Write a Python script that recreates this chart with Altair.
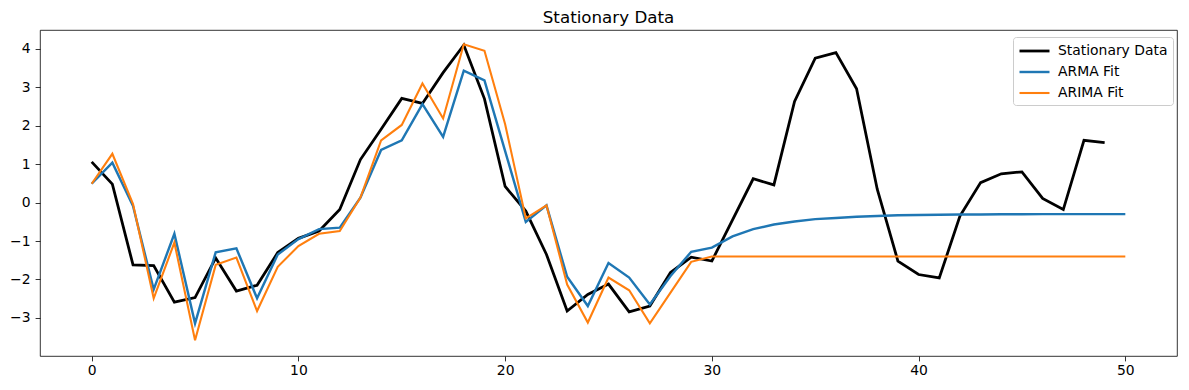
import altair as alt
import pandas as pd

# ---- data ----
x_stationary = list(range(0, 50))
stationary = [1.06, 0.48, -1.62, -1.64, -2.59, -2.47, -1.44, -2.30, -2.15, -1.30,
              -0.93, -0.74, -0.18, 1.12, 1.91, 2.71, 2.58, 3.38, 4.10, 2.70,
              0.42, -0.22, -1.35, -2.82, -2.39, -2.12, -2.84, -2.69, -1.82, -1.42,
              -1.52, -0.45, 0.62, 0.46, 2.63, 3.76, 3.90, 2.96, 0.35, -1.52,
              -1.87, -1.96, -0.35, 0.52, 0.75, 0.80, 0.11, -0.18, 1.62, 1.56]

x_fit = list(range(0, 51))
arma = [0.49, 1.04, -0.09, -2.26, -0.81, -3.14, -1.29, -1.19, -2.49, -1.35,
        -0.95, -0.69, -0.65, 0.13, 1.37, 1.62, 2.56, 1.71, 3.43, 3.18,
        1.34, -0.50, -0.07, -1.93, -2.69, -1.57, -1.95, -2.65, -1.91, -1.28,
        -1.17, -0.88, -0.69, -0.57, -0.49, -0.43, -0.40, -0.37, -0.35, -0.33,
        -0.32, -0.315, -0.31, -0.31, -0.305, -0.305, -0.30, -0.30, -0.30, -0.30, -0.30]
arima = [0.49, 1.27, -0.04, -2.49, -1.04, -3.58, -1.62, -1.43, -2.82, -1.67,
         -1.13, -0.81, -0.74, 0.13, 1.62, 2.02, 3.10, 2.19, 4.12, 3.95,
         2.04, -0.41, -0.07, -2.13, -3.12, -1.95, -2.28, -3.14, -2.34, -1.54,
         -1.40, -1.40, -1.40, -1.40, -1.40, -1.40, -1.40, -1.40, -1.40, -1.40,
         -1.40, -1.40, -1.40, -1.40, -1.40, -1.40, -1.40, -1.40, -1.40, -1.40, -1.40]

series_names = ["Stationary Data", "ARMA Fit", "ARIMA Fit"]
series_colors = ["#000000", "#1f77b4", "#ff7f0e"]
series_widths = [2.78, 2.08, 2.08]

x_ticks = [0, 10, 20, 30, 40, 50]
y_ticks = [-3, -2, -1, 0, 1, 2, 3, 4]

df_s = pd.DataFrame({"x": x_stationary, "y": stationary, "series": series_names[0]})
df_a = pd.DataFrame({"x": x_fit, "y": arma, "series": series_names[1]})
df_i = pd.DataFrame({"x": x_fit, "y": arima, "series": series_names[2]})

color_scale = alt.Scale(domain=series_names, range=series_colors)
width_scale = alt.Scale(domain=series_names, range=series_widths)

xenc = alt.X("x:Q", scale=alt.Scale(domain=[-2.5, 52.5], nice=False, zero=False),
             axis=alt.Axis(values=x_ticks, title=None, format="d"))
yenc = alt.Y("y:Q", scale=alt.Scale(domain=[-3.99, 4.49], nice=False, zero=False),
             axis=alt.Axis(values=y_ticks, title=None, format="d"))
# line-shaped legend symbol: 15px nominal size, drawn 30px long to the right
legend = alt.Legend(title=None, orient="none", legendX=973, legendY=7,
                    symbolType="M-1,0H3", symbolSize=225,
                    fillColor="white", strokeColor="#cccccc", cornerRadius=3,
                    padding=5, labelFont="DejaVu Sans", labelFontSize=13.9,
                    labelColor="black", labelOffset=22, rowPadding=5)
cenc = alt.Color("series:N", scale=color_scale, legend=legend)
wenc = alt.StrokeWidth("series:N", scale=width_scale, legend=legend)

def layer(df):
    return alt.Chart(df).mark_line().encode(x=xenc, y=yenc, color=cenc, strokeWidth=wenc)

chart = alt.layer(layer(df_s), layer(df_a), layer(df_i)).properties(
    width=1137, height=326,
    title=alt.TitleParams("Stationary Data", fontSize=16.7, font="DejaVu Sans",
                          fontWeight="normal", color="black", anchor="middle",
                          offset=3),
    autosize=alt.AutoSizeParams(type="none"),
    padding={"left": 32, "top": 22, "right": 4, "bottom": 26},
).configure_view(stroke="black", strokeWidth=0.8).configure_axis(
    domain=False, grid=False, tickColor="black", tickSize=4.9, tickWidth=0.8,
    labelFont="DejaVu Sans", labelFontSize=13.9, labelColor="black", labelPadding=3,
).configure_axisY(labelPadding=5)

chart.save("out.html", embed_options={"renderer": "svg", "actions": False})
